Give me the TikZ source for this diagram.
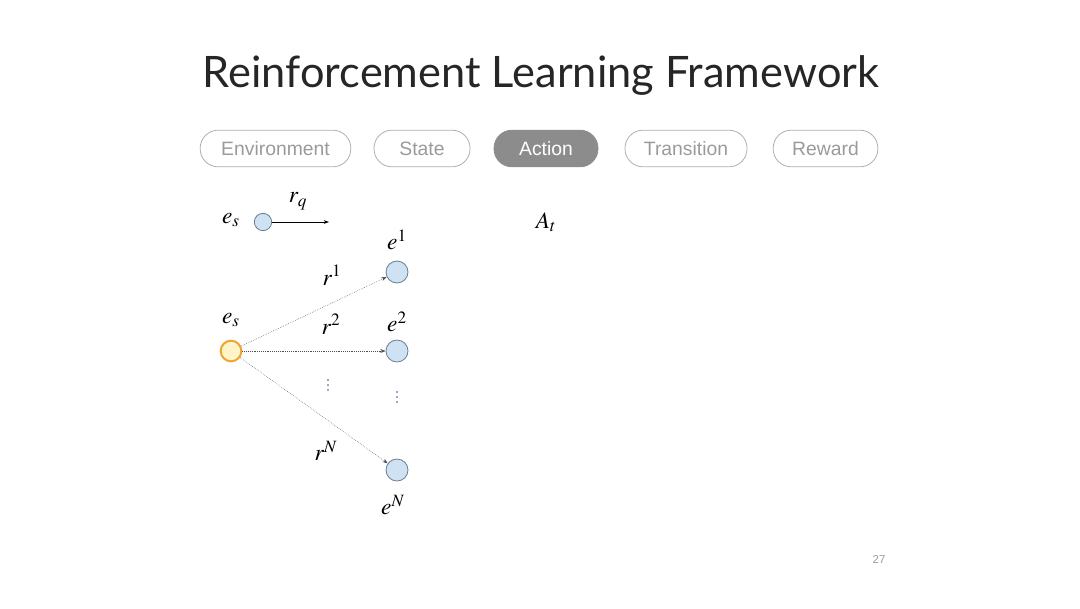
\documentclass[tikz,border=0pt]{standalone}
\usepackage{mathptmx}
\usepackage{fontspec}
\setsansfont{Liberation Sans}
\newfontfamily\titlefont{Lato}
\usepackage{tikz}
\usetikzlibrary{arrows.meta,positioning,calc}
\definecolor{pillg}{HTML}{8C8C8C}
\definecolor{pilltxt}{HTML}{9A9A9A}
\definecolor{entfill}{HTML}{CFE2F3}
\definecolor{entdraw}{HTML}{6A7D90}
\definecolor{srcfill}{HTML}{FFF5C8}
\definecolor{srcdraw}{HTML}{EFA62E}
\definecolor{dotc}{HTML}{3A4A8A}
\tikzset{
  >={Stealth[length=1.4mm,width=1mm]},
  pill/.style={draw=pillg!70,line width=0.6pt,rounded corners=13.5pt,minimum height=27.5pt,inner sep=0pt,font=\sffamily\fontsize{14.5}{16}\selectfont,text=pilltxt},
  apill/.style={pill,fill=pillg,draw=pillg,text=white},
  ent/.style={circle,draw=entdraw,fill=entfill,line width=0.6pt,minimum size=16.5pt,inner sep=0pt},
  src/.style={circle,draw=srcdraw,fill=srcfill,line width=1.5pt,minimum size=15.5pt,inner sep=0pt},
  lab/.style={font=\fontsize{17.5}{19}\selectfont,inner sep=0pt},
  edge/.style={->,draw=black!70,line width=0.4pt,densely dotted},
}
\begin{document}
\begin{tikzpicture}[x=0.75pt,y=-0.75pt]
\useasboundingbox (0,0) rectangle (1080,608);
% title
\node[font=\titlefont\fontsize{32.5}{38}\selectfont,text=black!85] (title) at (541,75) {Reinforcement Learning Framework};
% stages
\node[pill,minimum width=113pt] (env) at (275.5,148.5) {Environment};
\node[pill,minimum width=72pt] (state) at (422,148.5) {State};
\node[apill,minimum width=78pt] (act) at (546,148.5) {Action};
\node[pill,minimum width=91.5pt] (trans) at (686,148.5) {Transition};
\node[pill,minimum width=78.5pt] (rew) at (825.5,148.5) {Reward};
% query relation
\node[ent,minimum size=13pt] (q) at (263,222) {};
\node[lab] (qlab) at (231,220) {$e_s$};
\coordinate (qend) at (329,222);
\draw[->,line width=0.6pt] (q) -- (qend);
\node[lab] (rq) at (298,201) {$r_q$};
% candidate actions
\node[src] (s) at (231,351) {};
\node[lab] (slab) at (231,320) {$e_s$};
\node[ent] (e1) at (397,272) {};
\node[ent] (e2) at (397,351) {};
\node[ent] (eN) at (397,470) {};
\node[lab] (e1lab) at (397,240) {$e^1$};
\node[lab] (e2lab) at (397,322) {$e^2$};
\node[lab] (eNlab) at (393,505) {$e^N$};
\draw[edge] (s) -- (e1);
\draw[edge] (s) -- (e2);
\draw[edge] (s) -- (eN);
\node[lab] (r1) at (332,275) {$r^1$};
\node[lab] (r2) at (331,324) {$r^2$};
\node[lab] (rN) at (326,451) {$r^N$};
% vertical dots
\foreach \x/\y in {328/385, 397/397}
  \foreach \d in {-5,0,5}
    \fill[dotc] (\x,\y+\d) circle (0.6pt);
% action set
\node[lab] (at) at (546,222) {$A_t$};
% page
\node[font=\sffamily\fontsize{8.5}{10}\selectfont,text=pilltxt] (pg) at (879,560) {27};
\end{tikzpicture}
\end{document}
